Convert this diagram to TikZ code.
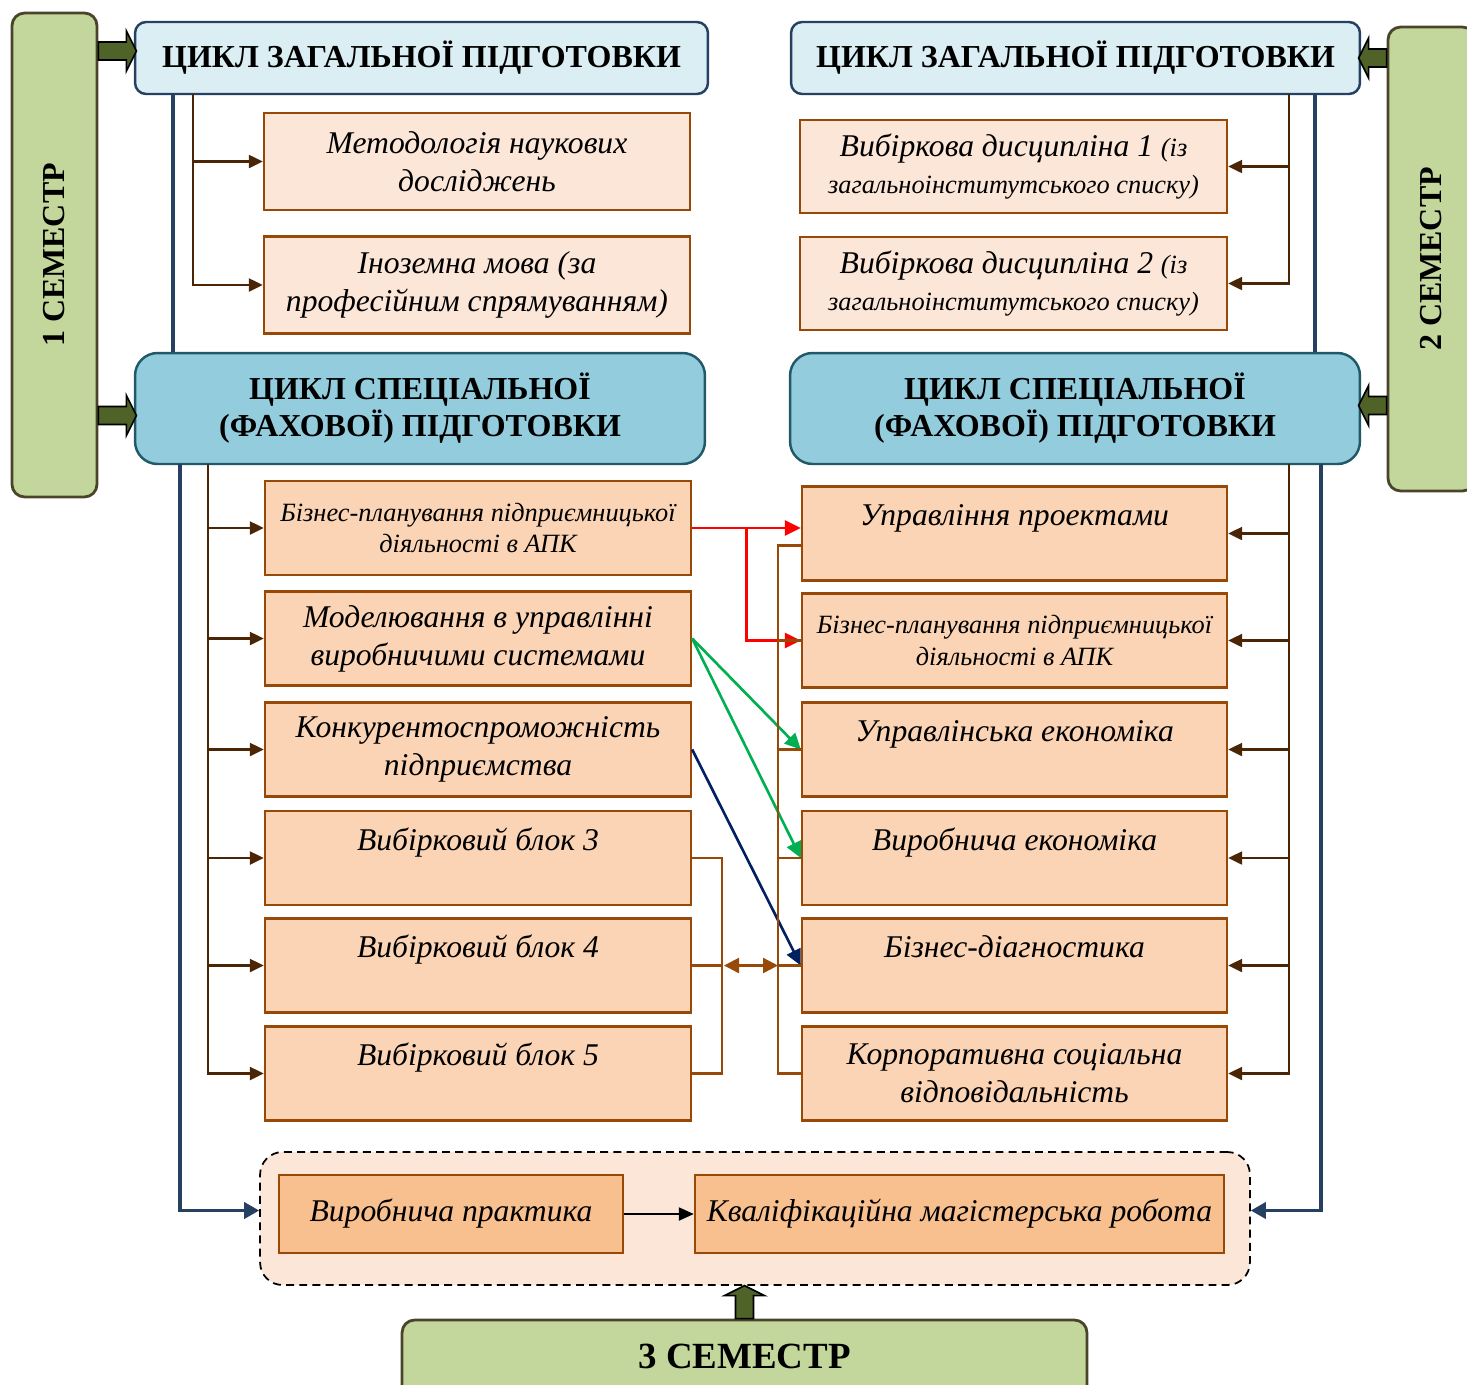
\documentclass[tikz,border=0pt]{standalone}
\usepackage{fontspec}
\setmainfont{Liberation Serif}
\usetikzlibrary{arrows.meta,calc}

\definecolor{semgreen}{HTML}{C3D69B}
\definecolor{semline}{HTML}{4A452A}
\definecolor{fatgreen}{HTML}{4F6228}
\definecolor{cycleA}{HTML}{DBEEF4}
\definecolor{cycleB}{HTML}{93CDDD}
\definecolor{cycleline}{HTML}{254061}
\definecolor{specline}{HTML}{215968}
\definecolor{peachA}{HTML}{FCE6D8}
\definecolor{peachB}{HTML}{FAD4B4}
\definecolor{peachC}{HTML}{F8BF8F}
\definecolor{brownline}{HTML}{984807}
\definecolor{trunk}{HTML}{4A2506}
\definecolor{navyline}{HTML}{002060}
\definecolor{greenline}{HTML}{00B050}

\newcommand{\hdfont}{\fontsize{18.2}{21}\selectfont\bfseries}
\newcommand{\crsfont}{\fontsize{18}{21.5}\selectfont\itshape}
\newcommand{\smallcrs}{\fontsize{15}{18}\selectfont\itshape}
\newcommand{\tinycrs}{\fontsize{15}{21}\selectfont\itshape}

% fat green arrow: start, direction, length
\newcommand{\fatarrow}[3]{%
  \begin{scope}[shift={(#1)}, rotate=#2]
    \draw[fat] (0,-9) -- ({#3-10},-9) -- ({#3-10},-20) -- (#3,0)
      -- ({#3-10},20) -- ({#3-10},9) -- (0,9) -- cycle;
  \end{scope}}

\tikzset{
  semester/.style={draw=semline, line width=1.6pt, fill=semgreen,
    rounded corners=0.25cm, inner sep=0pt},
  semtext/.style={font=\hdfont, inner sep=0pt},
  hdrgen/.style={draw=cycleline, line width=1.4pt, fill=cycleA,
    rounded corners=0.22cm, font=\hdfont, align=center, inner sep=0pt},
  hdrspec/.style={hdrgen, draw=specline, fill=cycleB, rounded corners=0.45cm},
  course/.style={draw=brownline, line width=1.4pt, fill=peachA,
    font=\crsfont, align=center, inner sep=0pt},
  special/.style={course, fill=peachB},
  practice/.style={course, fill=peachC},
  group/.style={draw=black, dash pattern=on 4.5pt off 3pt, line width=1pt,
    fill=peachA, rounded corners=0.45cm},
  fat/.style={draw=black, line width=0.9pt, fill=fatgreen},
  branch/.style={draw=trunk, line width=1.3pt,
    -{Triangle[length=0.28cm,width=0.26cm]}},
  spine/.style={draw=cycleline, line width=2pt},
  link/.style={line width=1.5pt, -{Triangle[length=0.32cm,width=0.3cm]}},
  bracket/.style={draw=brownline, line width=1.3pt}
}

\begin{document}
\begin{tikzpicture}[x=0.02cm, y=-0.02cm]
\useasboundingbox (0,0) rectangle (1467,1384);

% semesters
\node[semester, minimum width=1.7cm, minimum height=9.68cm] (sem1) at (54.5,255) {};
\node[semtext, rotate=90] (sem1t) at (sem1) {1 СЕМЕСТР};
\node[semester, minimum width=1.74cm, minimum height=9.28cm] (sem2) at (1431.5,259) {};
\node[semtext, rotate=90] (sem2t) at (sem2) {2 СЕМЕСТР};
\node[semester, minimum width=13.7cm, minimum height=1.6cm] (sem3) at (744.5,1360) {};
\node[semtext, font=\fontsize{21}{24}\selectfont\bfseries] (sem3t) at (744.5,1356) {3 СЕМЕСТР};

% cycle headers
\node[hdrgen, minimum width=11.46cm, minimum height=1.44cm] (hdrA) at (421.5,58) {ЦИКЛ ЗАГАЛЬНОЇ ПІДГОТОВКИ};
\node[hdrgen, minimum width=11.38cm, minimum height=1.44cm] (hdrB) at (1075.5,58) {ЦИКЛ ЗАГАЛЬНОЇ ПІДГОТОВКИ};
\node[hdrspec, minimum width=11.4cm, minimum height=2.22cm] (specA) at (420,408.5) {ЦИКЛ СПЕЦІАЛЬНОЇ\\(ФАХОВОЇ) ПІДГОТОВКИ};
\node[hdrspec, minimum width=11.4cm, minimum height=2.22cm] (specB) at (1075,408.5) {ЦИКЛ СПЕЦІАЛЬНОЇ\\(ФАХОВОЇ) ПІДГОТОВКИ};

\fatarrow{$(sem1.east |- hdrA.west)+(0,-7)$}{0}{38}
\fatarrow{$(sem1.east |- specA.west)+(0,7)$}{0}{38}
\fatarrow{sem2.west |- hdrB.east}{180}{28}
\fatarrow{$(sem2.west |- specB.east)+(0,-3)$}{180}{28}

% general courses
\node[course, minimum width=8.52cm, minimum height=1.94cm] (l1) at (477,161.5) {Методологія наукових\\досліджень};
\node[course, minimum width=8.52cm, minimum height=1.94cm] (l2) at (477,285) {Іноземна мова (за\\професійним спрямуванням)};
\node[course, minimum width=8.54cm, minimum height=1.86cm] (r1) at (1013.5,166.5) {Вибіркова дисципліна 1 {\tinycrs(із}\\{\tinycrs загальноінститутського списку)}};
\node[course, minimum width=8.54cm, minimum height=1.86cm] (r2) at (1013.5,283.5) {Вибіркова дисципліна 2 {\tinycrs(із}\\{\tinycrs загальноінститутського списку)}};

% special courses, left
\node[special, minimum width=8.52cm, minimum height=1.88cm, font=\smallcrs] (s1) at (478,528) {Бізнес-планування підприємницької\\діяльності в АПК};
\node[special, minimum width=8.52cm, minimum height=1.88cm] (s2) at (478,638.5) {Моделювання в управлінні\\виробничими системами};
\node[special, minimum width=8.52cm, minimum height=1.88cm] (s3) at (478,749.5) {Конкурентоспроможність\\підприємства};
\node[special, minimum width=8.52cm, minimum height=1.88cm] (s4) at (478,858) {Вибірковий блок 3\\\mbox{}};
\node[special, minimum width=8.52cm, minimum height=1.88cm] (s5) at (478,965.5) {Вибірковий блок 4\\\mbox{}};
\node[special, minimum width=8.52cm, minimum height=1.88cm] (s6) at (478,1073.5) {Вибірковий блок 5\\\mbox{}};

% special courses, right
\node[special, minimum width=8.5cm, minimum height=1.88cm] (t1) at (1014.5,533.5) {Управління проектами\\\mbox{}};
\node[special, minimum width=8.5cm, minimum height=1.88cm, font=\smallcrs] (t2) at (1014.5,640.5) {Бізнес-планування підприємницької\\діяльності в АПК};
\node[special, minimum width=8.5cm, minimum height=1.88cm] (t3) at (1014.5,749.5) {Управлінська економіка\\\mbox{}};
\node[special, minimum width=8.5cm, minimum height=1.88cm] (t4) at (1014.5,858) {Виробнича економіка\\\mbox{}};
\node[special, minimum width=8.5cm, minimum height=1.88cm] (t5) at (1014.5,965.5) {Бізнес-діагностика\\\mbox{}};
\node[special, minimum width=8.5cm, minimum height=1.88cm] (t6) at (1014.5,1073.5) {Корпоративна соціальна\\відповідальність};

% 3rd semester block
\node[group, minimum width=19.8cm, minimum height=2.66cm] (grp) at (755,1218.5) {};
\node[practice, minimum width=6.88cm, minimum height=1.56cm] (p1) at (451,1214) {Виробнича практика};
\node[practice, minimum width=10.58cm, minimum height=1.56cm] (p2) at (959.5,1214) {Кваліфікаційна магістерська робота};
\fatarrow{sem3.north}{90}{33}
\draw[line width=1.2pt, -{Triangle[length=0.3cm,width=0.26cm]}] (p1) -- (p2);

% trunks
\coordinate (trA) at (193,94);
\coordinate (trB) at (208,464);
\coordinate (trC) at (1289,94);
\coordinate (trD) at (1289,464);
\coordinate (bA) at (173,94);
\coordinate (bB) at (180,464);
\coordinate (bC) at (1315,94);
\coordinate (bD) at (1321,464);

\foreach \i in {1,2}
{
  \draw[branch] (trA) |- (l\i.west);
  \draw[branch] (trC) |- (r\i.east);
}
\foreach \i in {1,...,6}
{
  \draw[branch] (trB) |- (s\i.west);
  \draw[branch] (trD) |- (t\i.east);
}

\draw[spine] (bA) -- (bA |- specA.north);
\draw[spine] (bC) -- (bC |- specB.north);
\draw[spine, -{Triangle[length=0.3cm,width=0.32cm]}] (bB) |- ([yshift=0.16cm]grp.west);
\draw[spine, -{Triangle[length=0.3cm,width=0.32cm]}] (bD) |- ([yshift=0.16cm]grp.east);

% links between columns
\coordinate (rj) at ($(s1.east)!0.5!(s1.east -| t1.west)$);
\draw[link, red] (s1.east) -- (s1.east -| t1.west);
\draw[link, red] (rj) |- (t2.west);
\draw[link, greenline] (s2.east) -- (t3.west);
\draw[link, greenline] (s2.east) -- (t4.west);
\draw[link, navyline] (s3.east) -- (t5.west);

% brackets
\coordinate (lb) at (722,0);
\coordinate (rb) at (778,0);
\draw[bracket] (s4.east) -- (s4.east -| lb) -- (s6.east -| lb) -- (s6.east);
\draw[bracket] (s5.east) -- (s5.east -| lb);
\draw[bracket] ([yshift=-0.24cm]t1.west) -| (rb |- t6.west) -- (t6.west);
\foreach \i in {2,...,5}
{
  \draw[bracket] (t\i.west) -- (t\i.west -| rb);
}
\draw[bracket, {Triangle[length=0.3cm,width=0.3cm]}-{Triangle[length=0.3cm,width=0.3cm]}]
  ([xshift=0.04cm]s5.east -| lb) -- (t5.west -| rb);

\end{tikzpicture}
\end{document}
